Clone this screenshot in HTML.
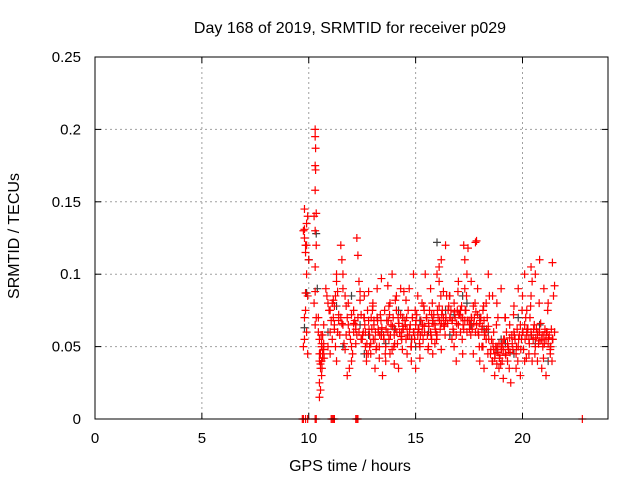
<!DOCTYPE html>
<html><head><meta charset="utf-8"><style>
body{margin:0;background:#fff}
svg text{font-family:"Liberation Sans",sans-serif;font-size:15px;fill:#000}
svg text.big{font-size:16px}
</style></head><body>
<svg id="chart" width="640" height="480" xmlns="http://www.w3.org/2000/svg">
<text class="big" x="350" y="33" text-anchor="middle">Day 168 of 2019, SRMTID for receiver p029</text>
<text class="big" x="350" y="471" text-anchor="middle">GPS time / hours</text>
<text class="big" transform="translate(19,236) rotate(-90)" text-anchor="middle">SRMTID / TECUs</text>
<g id="grid"></g>
<g id="ticks"></g>
<g id="grey"></g>
<g id="red"></g>
<rect x="95" y="57" width="513" height="362" fill="none" stroke="#000" stroke-width="1"/>
</svg>
<script>
const xTicks=[0,5,10,15,20];
const yTicks=[0,0.05,0.1,0.15,0.2,0.25];
const yTickLabels=["0","0.05","0.1","0.15","0.2","0.25"];
const redTimes=[
9.75,9.8,9.85,9.9,9.95,9.8,9.85,9.9,9.95,9.85,9.8,9.9,9.75,9.8,9.85,9.95,9.9,9.8,10.0,
10.3,10.3,10.32,10.3,10.32,10.3,10.35,10.25,10.3,10.35,10.3,10.3,10.25,10.35,10.3,
10.45,10.5,10.55,10.5,10.55,10.6,10.5,10.55,10.5,10.6,10.65,10.7,10.55,10.6,10.65,10.7,10.45,10.5,10.6,
10.8,10.85,10.9,10.95,11.0,10.9,11.0,11.1,11.15,11.2,11.1,11.2,11.3,11.3,11.35,11.4,11.4,11.45,11.25,11.3,11.2,11.15,
11.5,11.55,11.6,11.6,11.7,11.75,11.8,11.85,11.9,11.95,12.0,12.05,12.1,12.15,12.2,12.25,12.25,12.3,12.35,12.4,12.45,12.1,12.0,11.9,11.8,11.7,11.65,11.55,12.3,12.4,12.2,
12.5,12.55,12.6,12.65,12.7,12.75,12.8,12.85,12.9,12.95,13.0,13.05,13.1,13.15,13.2,13.25,13.3,13.35,13.4,13.45,12.6,12.7,12.8,12.9,13.0,13.1,13.2,13.3,13.4,12.65,12.85,13.05,13.25,
13.5,13.55,13.6,13.65,13.7,13.75,13.8,13.85,13.9,13.95,14.0,14.05,14.1,14.15,14.2,14.25,14.3,14.35,14.4,14.45,13.6,13.7,13.8,13.9,14.0,14.1,14.2,14.3,14.4,13.75,14.05,14.35,
14.5,14.55,14.6,14.65,14.7,14.75,14.8,14.85,14.9,14.95,15.0,15.05,15.1,15.15,15.2,15.25,15.3,15.35,15.4,15.45,14.6,14.7,14.8,14.9,15.0,15.1,15.2,15.3,15.4,14.55,14.85,15.15,
15.5,15.55,15.6,15.65,15.7,15.75,15.8,15.85,15.9,15.95,16.0,16.05,16.1,16.15,16.2,16.25,16.3,16.35,16.4,16.45,15.6,15.7,15.8,15.9,16.0,16.1,16.2,16.3,16.4,16.1,16.2,15.75,
16.5,16.55,16.6,16.65,16.7,16.75,16.8,16.85,16.9,16.95,17.0,17.05,17.1,17.15,17.2,17.25,17.3,17.35,17.4,17.45,17.25,17.3,17.3,16.6,16.8,17.0,17.2,17.4,16.7,16.9,17.1,
17.5,17.55,17.6,17.65,17.7,17.75,17.8,17.85,17.9,17.95,18.0,18.05,18.1,18.15,18.2,18.25,18.3,18.35,18.4,18.45,17.8,17.85,17.9,18.0,17.6,17.7,18.1,18.2,18.3,18.4,18.15,
18.5,18.55,18.6,18.65,18.7,18.75,18.8,18.85,18.9,18.95,19.0,19.05,19.1,19.15,19.2,19.25,19.3,19.35,19.4,19.45,18.6,18.7,18.8,18.9,19.0,19.1,19.2,19.3,19.4,18.65,18.85,19.05,
19.5,19.55,19.6,19.65,19.7,19.75,19.8,19.85,19.9,19.95,20.0,20.05,20.1,20.15,20.2,20.25,20.3,20.35,20.4,20.45,19.6,19.7,19.8,19.9,20.0,20.1,20.2,20.3,20.4,20.1,20.2,
20.5,20.55,20.6,20.65,20.7,20.75,20.8,20.85,20.9,20.95,21.0,21.05,21.1,21.15,21.2,21.25,21.3,21.35,21.4,21.45,20.6,20.7,20.8,20.9,21.0,21.1,21.2,21.3,21.4,20.4,20.45,21.5,21.5,21.45];
const redValues=[
0.13,0.125,0.12,0.135,0.14,0.145,0.115,0.10,0.085,0.087,0.07,0.06,0.05,0.055,0.075,0.045,0.12,0.131,0.11,
0.20,0.195,0.187,0.175,0.172,0.158,0.142,0.14,0.13,0.12,0.105,0.088,0.08,0.07,0.065,
0.06,0.055,0.045,0.04,0.035,0.03,0.025,0.02,0.015,0.05,0.042,0.048,0.038,0.052,0.058,0.065,0.07,0.045,0.04,
0.09,0.085,0.08,0.075,0.06,0.05,0.045,0.08,0.07,0.065,0.055,0.062,0.1,0.095,0.088,0.072,0.068,0.058,0.05,0.04,0.078,0.082,
0.12,0.11,0.1,0.09,0.085,0.078,0.07,0.065,0.06,0.055,0.05,0.045,0.075,0.068,0.062,0.058,0.125,0.113,0.095,0.088,0.072,0.06,0.04,0.035,0.03,0.048,0.052,0.066,0.07,0.082,
0.065,0.055,0.06,0.07,0.05,0.045,0.075,0.068,0.058,0.052,0.062,0.08,0.065,0.055,0.048,0.07,0.06,0.05,0.072,0.058,0.03,0.085,0.04,0.088,0.045,0.078,0.035,0.09,0.042,0.097,0.06,0.05,0.068,
0.062,0.058,0.075,0.05,0.068,0.06,0.055,0.08,0.065,0.048,0.07,0.058,0.062,0.075,0.052,0.066,0.06,0.072,0.055,0.064,0.088,0.04,0.092,0.045,0.1,0.038,0.085,0.035,0.09,0.07,0.078,0.082,
0.06,0.068,0.055,0.062,0.075,0.058,0.065,0.05,0.07,0.06,0.055,0.065,0.072,0.058,0.062,0.05,0.068,0.06,0.055,0.064,0.1,0.045,0.09,0.04,0.1,0.035,0.085,0.042,0.08,0.075,0.082,0.07,
0.062,0.07,0.058,0.066,0.075,0.06,0.055,0.068,0.072,0.065,0.06,0.058,0.07,0.078,0.062,0.066,0.075,0.07,0.064,0.068,0.085,0.05,0.09,0.045,0.052,0.1,0.095,0.048,0.088,0.12,0.105,0.11,
0.072,0.066,0.078,0.07,0.075,0.068,0.062,0.08,0.07,0.058,0.075,0.065,0.072,0.06,0.078,0.07,0.062,0.068,0.075,0.06,0.118,0.12,0.11,0.09,0.085,0.05,0.095,0.045,0.1,0.055,0.04,
0.075,0.068,0.065,0.07,0.062,0.078,0.07,0.06,0.065,0.072,0.058,0.066,0.07,0.062,0.075,0.068,0.06,0.055,0.07,0.064,0.085,0.122,0.123,0.09,0.04,0.095,0.045,0.05,0.035,0.08,0.1,
0.05,0.045,0.055,0.04,0.048,0.042,0.05,0.038,0.046,0.052,0.044,0.05,0.04,0.048,0.055,0.045,0.06,0.052,0.048,0.056,0.025,0.085,0.03,0.08,0.035,0.09,0.028,0.07,0.04,0.065,0.06,0.07,
0.052,0.058,0.048,0.06,0.055,0.045,0.062,0.05,0.058,0.065,0.055,0.06,0.048,0.065,0.07,0.058,0.062,0.055,0.07,0.06,0.04,0.078,0.035,0.09,0.03,0.085,0.04,0.075,0.045,0.105,0.1,
0.06,0.055,0.065,0.05,0.062,0.058,0.052,0.06,0.066,0.055,0.05,0.058,0.062,0.055,0.06,0.052,0.058,0.048,0.062,0.055,0.085,0.1,0.04,0.11,0.035,0.09,0.03,0.08,0.045,0.108,0.085,0.095,0.092,0.06];
const redTimes2=[
10.6,10.65,10.7,10.62,10.68,10.58,10.72,11.0,11.05,11.25,11.35,11.5,11.6,11.75,11.85,12.0,12.1,12.2,12.35,12.45,
12.52,12.62,12.72,12.82,12.92,13.02,13.12,13.22,13.32,13.42,13.52,13.62,13.72,13.82,13.92,14.02,14.12,14.22,14.32,14.42,
14.52,14.62,14.72,14.82,14.92,15.02,15.12,15.22,15.32,15.42,15.52,15.62,15.72,15.82,15.92,16.02,16.12,16.22,16.32,16.42,
16.52,16.62,16.72,16.82,16.92,17.02,17.12,17.22,17.32,17.42,17.52,17.62,17.72,17.82,17.92,18.02,18.12,18.22,18.32,18.42,
18.52,18.62,18.72,18.82,18.92,19.02,19.12,19.22,19.32,19.42,19.52,19.62,19.72,19.82,19.92,20.02,20.12,20.22,20.32,20.42,
20.52,20.62,20.72,20.82,20.92,21.02,21.12,21.22,21.32,21.42,
12.58,12.78,12.98,13.18,13.38,13.58,13.78,13.98,14.18,14.38,14.58,14.78,14.98,15.18,15.38,15.58,15.78,15.98,16.18,16.38,
16.58,16.78,16.98,17.18,17.38,17.58,17.78,17.98,18.18,18.38,18.58,18.78,18.98,19.18,19.38,19.58,19.78,19.98,20.18,20.38,20.58,20.78,20.98,21.18,21.38];
const redValues2=[
0.05,0.045,0.052,0.035,0.048,0.058,0.042,0.075,0.068,0.085,0.06,0.07,0.065,0.058,0.08,0.072,0.066,0.052,0.06,0.055,
0.058,0.065,0.052,0.062,0.07,0.055,0.06,0.068,0.058,0.063,0.055,0.062,0.068,0.058,0.064,0.052,0.06,0.066,0.057,0.062,
0.065,0.058,0.062,0.055,0.06,0.068,0.062,0.058,0.065,0.06,0.07,0.064,0.058,0.066,0.062,0.075,0.068,0.072,0.065,0.07,
0.075,0.07,0.068,0.074,0.066,0.072,0.07,0.065,0.075,0.068,0.062,0.07,0.066,0.074,0.06,0.068,0.064,0.058,0.062,0.055,
0.048,0.052,0.045,0.05,0.042,0.048,0.055,0.044,0.05,0.046,0.052,0.058,0.05,0.055,0.048,0.06,0.055,0.062,0.052,0.058,
0.062,0.056,0.06,0.054,0.058,0.052,0.06,0.056,0.05,0.055,
0.07,0.045,0.075,0.05,0.068,0.045,0.072,0.05,0.07,0.048,0.07,0.05,0.075,0.052,0.078,0.048,0.08,0.055,0.085,0.058,
0.085,0.06,0.088,0.055,0.085,0.058,0.08,0.05,0.078,0.045,0.04,0.065,0.038,0.07,0.035,0.072,0.04,0.075,0.042,0.078,0.045,0.08,0.042,0.075,0.04];
const baselineTimes=[9.7,9.75,9.85,9.95,10.3,10.35,11.05,11.1,11.15,11.2,12.2,12.25,12.3,22.8];
const baselineValues=[0,0,0,0,0,0,0,0,0,0,0,0,0,0];
const greyTimes=[9.8,9.9,10.0,10.35,10.4,10.9,11.3,11.6,12.0,12.4,12.8,13.2,13.6,14.0,14.4,14.8,15.2,15.6,16.0,16.4,16.8,17.2,17.6,18.0,18.4,18.8,19.2,19.6,20.0,20.4,20.8,21.2,12.6,13.4,14.2,15.0,15.8,16.6,17.4,18.2,19.0,19.8,20.6,21.3];
const greyValues=[0.063,0.087,0.11,0.128,0.09,0.06,0.078,0.05,0.085,0.065,0.058,0.07,0.052,0.062,0.07,0.055,0.068,0.06,0.122,0.075,0.072,0.085,0.065,0.07,0.06,0.048,0.052,0.045,0.06,0.058,0.065,0.04,0.045,0.06,0.075,0.05,0.068,0.058,0.08,0.062,0.055,0.07,0.052,0.05];

const NS="http://www.w3.org/2000/svg";
const X0=95,X1=608,Y0=419,Y1=57;
function xs(t){return X0+(t/24)*(X1-X0);}
function ys(v){return Y0-(v/0.25)*(Y0-Y1);}
function mk(tag,attrs,parent){const e=document.createElementNS(NS,tag);for(const k in attrs)e.setAttribute(k,attrs[k]);parent.appendChild(e);return e;}
const grid=document.getElementById('grid'),ticks=document.getElementById('ticks');
xTicks.forEach(t=>{const x=xs(t);
 if(t>0){const g=mk('line',{x1:x,x2:x,y1:Y1,y2:Y0,stroke:'#a0a0a0','stroke-dasharray':'2,3'},grid);
 
 }
 mk('line',{x1:x,x2:x,y1:Y0,y2:Y0-6,stroke:'#000'},ticks);
 mk('line',{x1:x,x2:x,y1:Y1,y2:Y1+6,stroke:'#000'},ticks);
 const l=mk('text',{x:x,y:Y0+24,'text-anchor':'middle'},ticks);l.textContent=t;
 
 });
yTicks.forEach((v,i)=>{const y=ys(v);
 if(v>0&&v<0.25){const g=mk('line',{x1:X0,x2:X1,y1:y,y2:y,stroke:'#a0a0a0','stroke-dasharray':'2,3'},grid);
 
 }
 mk('line',{x1:X0,x2:X0+6,y1:y,y2:y,stroke:'#000'},ticks);
 mk('line',{x1:X1,x2:X1-6,y1:y,y2:y,stroke:'#000'},ticks);
 const l=mk('text',{x:X0-14,y:y+5,'text-anchor':'end'},ticks);l.textContent=yTickLabels[i];
 
 });
function plot(ts,vs,color,gid,name){const g=document.getElementById(gid);
 const n=Math.min(ts.length,vs.length);
 for(let i=0;i<n;i++){const x=xs(ts[i]),y=ys(vs[i]);
  const p=mk('path',{d:`M${x-4},${y}H${x+4}M${x},${y-4}V${y+4}`,stroke:color,'stroke-width':1.2,fill:'none'},g);
  
  }}
plot(greyTimes,greyValues,'#404040','grey','grey-point');
plot(redTimes,redValues,'#ff0000','red','red-point');
plot(redTimes2,redValues2,'#ff0000','red','red-point');
plot(baselineTimes,baselineValues,'#ff0000','red','baseline-point');
</script>
</body></html>
